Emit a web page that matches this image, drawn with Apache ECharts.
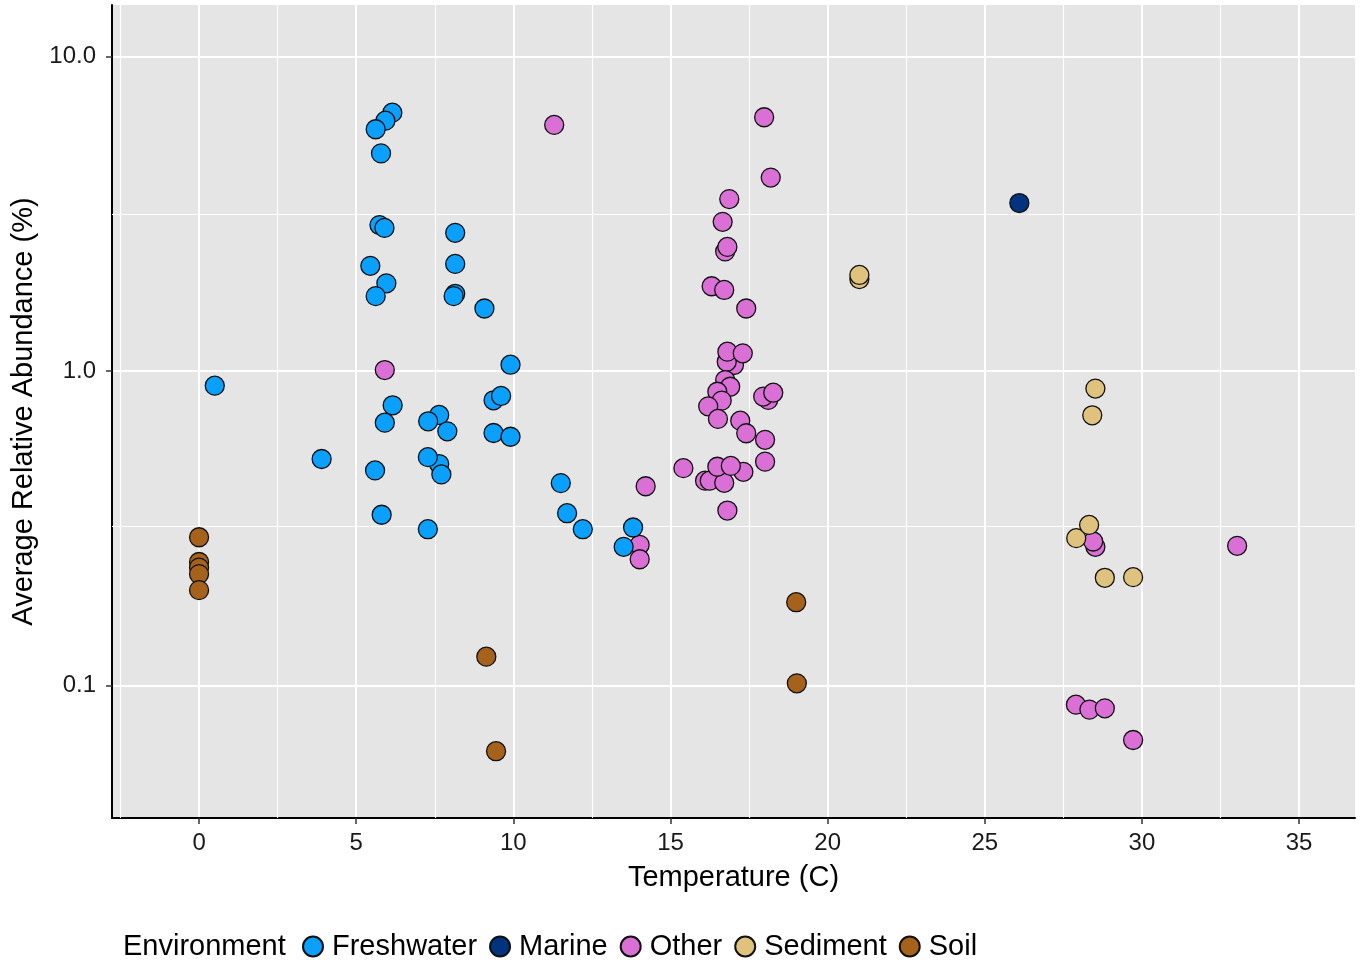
<!DOCTYPE html>
<html>
<head>
<meta charset="utf-8">
<script src="https://cdn.jsdelivr.net/npm/echarts@6/dist/echarts.min.js"></script>
<style>
html,body{margin:0;padding:0;background:#fff;}
#chart{width:1361px;height:962px;}
</style>
</head>
<body>
<div id="chart"></div>
<script>
// ---- data: [temperature (C), average relative abundance (%)] ----
const freshwater = [
  [0.5,0.898],[3.9,0.525],[6.15,6.63],[5.93,6.25],[5.62,5.87],[5.79,4.92],[5.74,2.91],[5.9,2.85],
  [5.45,2.16],[5.96,1.9],[5.62,1.73],[8.15,2.75],[8.15,2.19],[8.15,1.76],[8.1,1.73],[9.08,1.58],
  [6.16,0.778],[5.91,0.685],[7.64,0.725],[7.29,0.692],[7.9,0.643],[5.6,0.483],[7.64,0.506],
  [7.28,0.532],[7.71,0.469],[5.81,0.349],[7.28,0.314],[9.91,1.047],[9.37,0.807],[9.61,0.833],
  [9.37,0.635],[9.91,0.618],[11.51,0.44],[11.71,0.353],[12.21,0.314],[13.81,0.318],[13.51,0.276]
];
const marine = [[26.1,3.42]];
const other = [
  [5.91,1.007],[11.3,6.06],[14.21,0.43],[14.02,0.28],[14.02,0.252],[15.41,0.491],[17.98,6.41],
  [18.19,4.12],[16.87,3.52],[16.66,2.98],[16.74,2.4],[16.81,2.48],[16.31,1.86],[16.71,1.81],
  [17.41,1.58],[17.02,1.045],[16.79,1.07],[16.81,1.152],[17.3,1.138],[16.74,0.936],[16.9,0.891],
  [16.49,0.859],[16.63,0.805],[16.2,0.772],[16.51,0.704],[17.22,0.695],[17.41,0.634],[18.01,0.604],
  [18.01,0.515],[18.11,0.809],[17.95,0.829],[18.27,0.853],[16.1,0.448],[16.25,0.448],[16.71,0.441],
  [16.49,0.496],[17.32,0.478],[16.92,0.499],[16.81,0.36],[28.52,0.276],[28.45,0.287],[33.03,0.278],
  [27.9,0.0869],[28.33,0.0838],[28.82,0.0846],[29.72,0.0671]
];
const sediment = [
  [21.01,1.96],[21.01,2.02],[28.52,0.879],[28.42,0.723],[27.91,0.294],[28.32,0.324],[28.82,0.22],[29.72,0.221]
];
const soil = [
  [0,0.296],[0,0.247],[0,0.237],[0,0.226],[0,0.201],[9.14,0.1235],[9.45,0.0618],[19.02,0.1016],[19.0,0.184]
];
const categories = ['Freshwater','Marine','Other','Sediment','Soil'];
const xTicks = [0,5,10,15,20,25,30,35];
const yTicks = [0.1,1,10];
const xMinor = [-2.5,2.5,7.5,12.5,17.5,22.5,27.5,32.5];
const yMinor = [0.3162,3.162];

const colors = {Freshwater:'#0AA0FF', Marine:'#01337F', Other:'#DA70D6', Sediment:'#DFC27D', Soil:'#A6611A'};
const FONT = 'Liberation Sans, Arial, Helvetica, sans-serif';

function scatter(name, data) {
  return {
    name: name, type: 'scatter', data: data, symbolSize: 19, z: 3,
    itemStyle: {color: colors[name], borderColor: '#111', borderWidth: 1.3, opacity: 1},
    emphasis: {disabled: true}
  };
}

const chart = echarts.init(document.getElementById('chart'), null, {renderer: 'canvas'});
chart.setOption({
  animation: false,
  textStyle: {fontFamily: FONT},
  grid: {left: 112, right: 6, top: 5, bottom: 144, show: true, backgroundColor: '#E5E5E5', borderWidth: 0},
  legend: {
    data: categories, left: 297, top: 927, icon: 'circle', itemWidth: 28, itemHeight: 20, itemGap: 12,
    textStyle: {fontSize: 29, color: '#000', fontFamily: FONT}, selectedMode: false
  },
  graphic: [{
    type: 'text', left: 123, top: 932,
    style: {text: 'Environment', fontSize: 29, fontFamily: FONT, fill: '#000'}
  }],
  xAxis: {
    type: 'value', min: -2.77, max: 36.78, splitNumber: 8,
    name: 'Temperature (C)', nameLocation: 'middle', nameGap: 45,
    nameTextStyle: {fontSize: 29, color: '#000', fontFamily: FONT},
    axisLine: {show: true, onZero: false, lineStyle: {color: '#000', width: 2}},
    axisTick: {show: true, length: 6, customValues: xTicks, lineStyle: {color: '#333', width: 1.5}},
    axisLabel: {customValues: xTicks, fontSize: 24, color: '#1a1a1a', margin: 13, fontFamily: FONT},
    splitLine: {show: true, lineStyle: {color: '#fff', width: 2}}
  },
  yAxis: {
    type: 'log', logBase: 10, min: 0.0379, max: 14.58,
    name: 'Average Relative Abundance (%)', nameLocation: 'middle', nameGap: 72,
    nameTextStyle: {fontSize: 29, color: '#000', fontFamily: FONT},
    axisLine: {show: true, onZero: false, lineStyle: {color: '#000', width: 2}},
    axisTick: {show: true, length: 6, customValues: yTicks, lineStyle: {color: '#333', width: 1.5}},
    axisLabel: {customValues: yTicks, fontSize: 24, color: '#1a1a1a', margin: 16, fontFamily: FONT,
      formatter: function (v) { return Number(v).toFixed(1); }},
    splitLine: {show: true, lineStyle: {color: '#fff', width: 2}}
  },
  series: [
    {
      name: 'minor', type: 'scatter', data: [], z: 1, silent: true,
      markLine: {
        silent: true, z: 1, symbol: ['none','none'], label: {show: false}, animation: false,
        lineStyle: {color: '#fff', width: 1.1, type: 'solid'},
        emphasis: {disabled: true},
        data: xMinor.map(v => ({xAxis: v})).concat(yMinor.map(v => ({yAxis: v})))
      }
    },
    scatter('Other', other),
    scatter('Sediment', sediment),
    scatter('Freshwater', freshwater),
    scatter('Marine', marine),
    scatter('Soil', soil)
  ]
});
</script>
</body>
</html>
